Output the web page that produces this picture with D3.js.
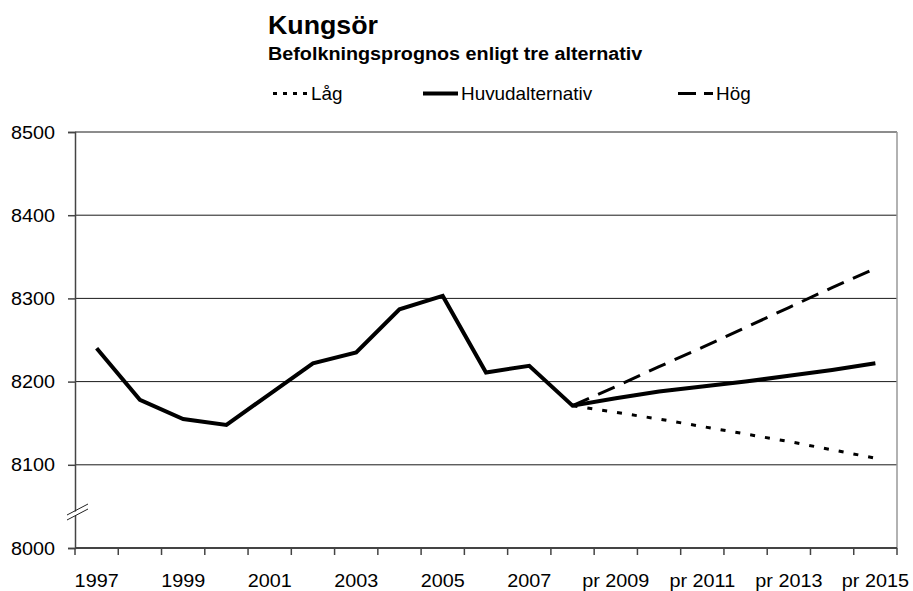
<!DOCTYPE html>
<html>
<head>
<meta charset="utf-8">
<script src="https://cdn.jsdelivr.net/npm/d3@7"></script>
<style>
    body { margin: 0; background: #fff; }
    text { font-family: "Liberation Sans", Arial, sans-serif; fill: #000; }
</style>
</head>
<body>
<div id="chart"></div>
<script>
// categories (years), every other one is labelled
var categories = ["1997", "1998", "1999", "2000", "2001", "2002", "2003", "2004", "2005", "2006",
    "2007", "2008", "pr 2009", "pr 2010", "pr 2011", "pr 2012", "pr 2013", "pr 2014", "pr 2015"];

// Huvudalternativ: history + main forecast
var huvudValues = [8240, 8178, 8155, 8148, 8185, 8222, 8235, 8287, 8303, 8211,
    8219, 8171, 8180, 8188, 8194, 8200, 8207, 8214, 8222];

// low and high alternatives start at 2008
var lagCategories = ["2008", "pr 2009", "pr 2010", "pr 2011", "pr 2012", "pr 2013", "pr 2014", "pr 2015"];
var lagValues = [8171, 8163, 8155, 8146, 8137, 8128, 8118, 8108];
var hogValues = [8171, 8194, 8218, 8241, 8265, 8289, 8313, 8336];

var yTicks = [8000, 8100, 8200, 8300, 8400, 8500];

var width = 913, height = 591,
    plotLeft = 75, plotRight = 897, plotTop = 132, plotBottom = 548;

var svg = d3.select("#chart").append("svg")
    .attr("width", width)
    .attr("height", height);

var x = d3.scaleBand()
    .domain(categories)
    .range([plotLeft, plotRight])
    .padding(0);

var y = d3.scaleLinear()
    .domain([8000, 8500])
    .range([plotBottom, plotTop]);

var cx = d => x(d) + x.bandwidth() / 2;

// label helper, the original text is a bit wider than the font
function label(g, txt, px, py, size, anchor, weight, sx) {
    return g.append("text")
        .attr("transform", `translate(${px},${py}) scale(${sx || 1.1},1)`)
        .attr("text-anchor", anchor || "start")
        .style("font-size", size + "px")
        .style("font-weight", weight || "normal")
        .text(txt);
}

// gridlines
svg.append("g").selectAll("line")
    .data(yTicks.filter(v => v > 8000))
    .enter().append("line")
    .attr("x1", plotLeft).attr("x2", plotRight)
    .attr("y1", d => y(d)).attr("y2", d => y(d))
    .attr("stroke", "#1a1a1a")
    .attr("stroke-width", 1);

// right border
svg.append("line")
    .attr("x1", plotRight).attr("x2", plotRight)
    .attr("y1", plotTop).attr("y2", plotBottom)
    .attr("stroke", "#999").attr("stroke-width", 1.5);

// y axis
var yAxis = svg.append("g")
    .attr("transform", `translate(${plotLeft},0)`)
    .call(d3.axisLeft(y).tickValues(yTicks).tickSize(7).tickFormat(""));
yAxis.select(".domain").attr("stroke", "#444").attr("stroke-width", 1.5);
yAxis.selectAll(".tick line").attr("stroke", "#444").attr("stroke-width", 1.5);

yTicks.forEach(v => label(svg, v, 55, y(v) + 6.5, 18, "end"));

// x axis line + ticks at category boundaries
svg.append("line")
    .attr("x1", plotLeft).attr("x2", plotRight)
    .attr("y1", plotBottom).attr("y2", plotBottom)
    .attr("stroke", "#444").attr("stroke-width", 2);

var bounds = categories.map(c => x(c)).concat([plotRight]);
svg.append("g").selectAll("line")
    .data(bounds)
    .enter().append("line")
    .attr("x1", d => d).attr("x2", d => d)
    .attr("y1", plotBottom).attr("y2", plotBottom + 7)
    .attr("stroke", "#444").attr("stroke-width", 1.5);

categories.forEach(function (c, i) {
    if (i % 2 === 0) {
        label(svg, c, cx(c), 587, 18, "middle");
    }
});

// axis break marks
var brk = svg.append("g");
brk.append("polygon")
    .attr("points", "67,516 88,505 88,509 67,520")
    .attr("fill", "#fff");
brk.append("line").attr("x1", 67).attr("y1", 515).attr("x2", 88).attr("y2", 504)
    .attr("stroke", "#222").attr("stroke-width", 1);
brk.append("line").attr("x1", 67).attr("y1", 520).attr("x2", 88).attr("y2", 509)
    .attr("stroke", "#222").attr("stroke-width", 1);

// series
var line = d3.line()
    .x(d => cx(d[0]))
    .y(d => y(d[1]));

svg.append("path")
    .datum(d3.zip(lagCategories, lagValues))
    .attr("d", line)
    .attr("fill", "none")
    .attr("stroke", "#000")
    .attr("stroke-width", 3)
    .attr("stroke-dasharray", "5,10");

svg.append("path")
    .datum(d3.zip(lagCategories, hogValues))
    .attr("d", line)
    .attr("fill", "none")
    .attr("stroke", "#000")
    .attr("stroke-width", 3)
    .attr("stroke-dasharray", "18,10");

svg.append("path")
    .datum(d3.zip(categories, huvudValues))
    .attr("d", line)
    .attr("fill", "none")
    .attr("stroke", "#000")
    .attr("stroke-width", 4)
    .attr("stroke-linejoin", "miter");

// title
label(svg, "Kungsör", 268, 34, 26, "start", "bold", 1.03);
label(svg, "Befolkningsprognos enligt tre alternativ", 268, 60, 17.5, "start", "bold", 1.13);

// legend
var legend = [
    {name: "Låg", x1: 273, dash: "4,6", w: 3},
    {name: "Huvudalternativ", x1: 423, dash: null, w: 4},
    {name: "Hög", x1: 678, dash: "18,8", w: 3}
];
legend.forEach(function (d) {
    svg.append("line")
        .attr("x1", d.x1).attr("x2", d.x1 + 35)
        .attr("y1", 93.5).attr("y2", 93.5)
        .attr("stroke", "#000")
        .attr("stroke-width", d.w)
        .attr("stroke-dasharray", d.dash);
    label(svg, d.name, d.x1 + 38, 100, 17.5, "start", "normal", 1.08);
});
</script>
</body>
</html>
